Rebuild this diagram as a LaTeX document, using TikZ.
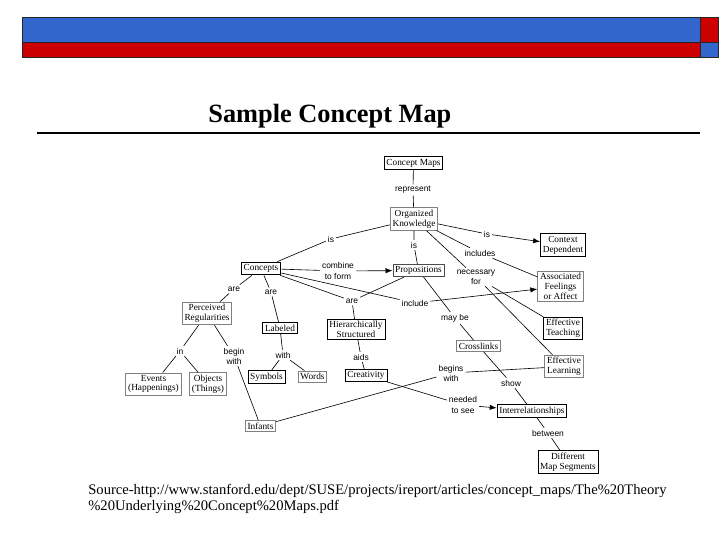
\documentclass[tikz,border=0pt]{standalone}
\usepackage{fontspec}
\setmainfont{Liberation Serif}
\newfontfamily\mapSans{Liberation Sans}
\usepackage{tikz}
\usetikzlibrary{arrows.meta}

\definecolor{bandBlue}{RGB}{51,102,204}
\definecolor{bandRed}{RGB}{204,0,0}

\begin{document}
\begin{tikzpicture}[x=0.02cm,y=-0.02cm]
    \tikzset{BoxDark/.style = {shape=rectangle,draw=black,line width=0.45pt,inner xsep=1.3pt,inner ysep=1.2pt,align=center,font=\fontsize{5.3}{5.6}\selectfont}}
    \tikzset{BoxGrey/.style = {BoxDark,draw=black!50}}
    \tikzset{LinkWord/.style = {inner sep=1pt,align=center,font=\mapSans\fontsize{4.8}{5.7}\selectfont}}
    \tikzset{band/.style = {draw=black!85,line width=0.5pt}}

    \tikzset{linea/.style = {black,line width=0.35pt}}
    \tikzset{flecha/.style = {linea,->,>={Latex[length=4pt,width=3pt]}}}

    \fill[white] (0,0) rectangle (728,546);

    %Bands at the top
    \filldraw[band,fill=bandBlue] (22,17) rectangle (700,42);
    \filldraw[band,fill=bandRed] (700,17) rectangle (718,42);
    \filldraw[band,fill=bandRed] (22,42) rectangle (700,57);
    \filldraw[band,fill=bandBlue] (700,42) rectangle (718,57);

    \node[anchor=base west,inner sep=0pt,font=\bfseries\fontsize{15}{18}\selectfont] (titulo) at (208,123) {Sample Concept Map};
    \draw[line width=0.6pt] (37,133) -- (700,133);

    \node[BoxDark] (conceptMaps) at (413.5,163) {Concept Maps};
    \node[LinkWord] (represent) at (413,190) {represent};
    \node[BoxGrey] (orgKnowledge) at (414,219) {Organized\\Knowledge};
    \node[LinkWord] (isContext) at (487,234) {is};
    \node[BoxDark] (context) at (563,245) {Context\\Dependent};
    \node[LinkWord] (isConcepts) at (331,239) {is};
    \node[LinkWord] (isProps) at (414,245) {is};

    \node[BoxDark,line width=0.8pt] (concepts) at (261,268.5) {Concepts};
    \node[LinkWord] (combine) at (338,271) {combine\\to form};
    \node[BoxGrey,draw=black!70] (props) at (418.5,270.5) {Propositions};
    \node[LinkWord] (includes) at (480,253) {includes};
    \node[LinkWord] (necessary) at (476,277) {necessary\\for};
    \node[BoxGrey] (feelings) at (560.5,286.5) {Associated\\Feelings\\or Affect};

    \node[LinkWord] (areHier) at (352,301) {are};
    \node[LinkWord] (include) at (415,303) {include};
    \node[LinkWord] (arePerc) at (234,289) {are};
    \node[LinkWord] (areLab) at (271,292) {are};
    \node[BoxGrey] (perceived) at (207,313.5) {Perceived\\Regularities};
    \node[BoxDark] (labeled) at (280,328) {Labeled};
    \node[BoxDark] (hier) at (356,329.5) {Hierarchically\\Structured};
    \node[LinkWord] (mayBe) at (455,318) {may be};
    \node[BoxDark] (teaching) at (563,328.5) {Effective\\Teaching};
    \node[BoxGrey] (crosslinks) at (478.5,346) {Crosslinks};

    \node[LinkWord] (inLink) at (180,351) {in};
    \node[LinkWord] (beginWith) at (234,356) {begin\\with};
    \node[LinkWord] (withLink) at (283,355) {with};
    \node[LinkWord] (aids) at (361,357) {aids};
    \node[BoxGrey] (events) at (153.5,384) {Events\\(Happenings)};
    \node[BoxGrey] (objects) at (208,384) {Objects\\(Things)};
    \node[BoxDark] (symbols) at (266.5,377) {Symbols};
    \node[BoxGrey] (words) at (312.5,376.5) {Words};
    \node[BoxDark] (creativity) at (366,375.5) {Creativity};
    \node[BoxGrey] (learning) at (564,366.5) {Effective\\Learning};
    \node[LinkWord] (beginsWith) at (451,373) {begins\\with};
    \node[LinkWord] (showLink) at (511,383) {show};
    \node[LinkWord] (neededSee) at (463,405) {needed\\to see};
    \node[BoxGrey] (infants) at (260.5,426) {Infants};
    \node[BoxDark] (interrel) at (532,411) {Interrelationships};
    \node[LinkWord] (between) at (548,433) {between};
    \node[BoxDark] (segments) at (568,462) {Different\\Map Segments};

    %Top of the map
    \draw [linea] (conceptMaps) -- (represent) -- (orgKnowledge);
    \draw [linea] (orgKnowledge) -- (isContext);
    \draw [flecha] (isContext) -- (context);
    \draw [linea] (orgKnowledge) -- (isConcepts) -- (concepts);
    \draw [linea] (orgKnowledge) -- (isProps) -- (props);
    \draw [linea] (orgKnowledge) -- (includes) -- (feelings);
    \draw [linea] (orgKnowledge) -- (necessary);
    \draw [linea] (necessary) -- (teaching);
    \draw [linea] (necessary) -- (learning);

    %Out of Concepts
    \draw [linea] (concepts) -- (combine);
    \draw [flecha] (combine) -- (props);
    \draw [linea] (concepts) -- (include);
    \draw [flecha] (include) -- (feelings);
    \draw [linea] (concepts) -- (areHier);
    \draw [linea] (props) -- (areHier);
    \draw [linea] (areHier) -- (hier);
    \draw [linea] (concepts) -- (arePerc) -- (perceived);
    \draw [linea] (concepts) -- (areLab) -- (labeled);
    \draw [linea] (props) -- (mayBe) -- (crosslinks);

    %Lower left
    \draw [linea] (perceived) -- (inLink) -- (events);
    \draw [linea] (inLink) -- (objects);
    \draw [linea] (perceived) -- (beginWith) -- (infants);
    \draw [linea] (labeled) -- (withLink) -- (symbols);
    \draw [linea] (withLink) -- (words);
    \draw [linea] (hier) -- (aids) -- (creativity);

    %Lower right
    \draw [linea] (infants) -- (beginsWith) -- (learning);
    \draw [linea] (creativity) -- (neededSee);
    \draw [flecha] (neededSee) -- (interrel);
    \draw [linea] (crosslinks) -- (showLink) -- (interrel);
    \draw [linea] (interrel) -- (between) -- (segments);

    \node[anchor=north west,align=left,inner sep=0pt,font=\fontsize{8.3}{9.2}\selectfont] (fuente) at (88,484) {Source-http://www.stanford.edu/dept/SUSE/projects/ireport/articles/concept\_maps/The\%20Theory\\\%20Underlying\%20Concept\%20Maps.pdf};
\end{tikzpicture}
\end{document}
